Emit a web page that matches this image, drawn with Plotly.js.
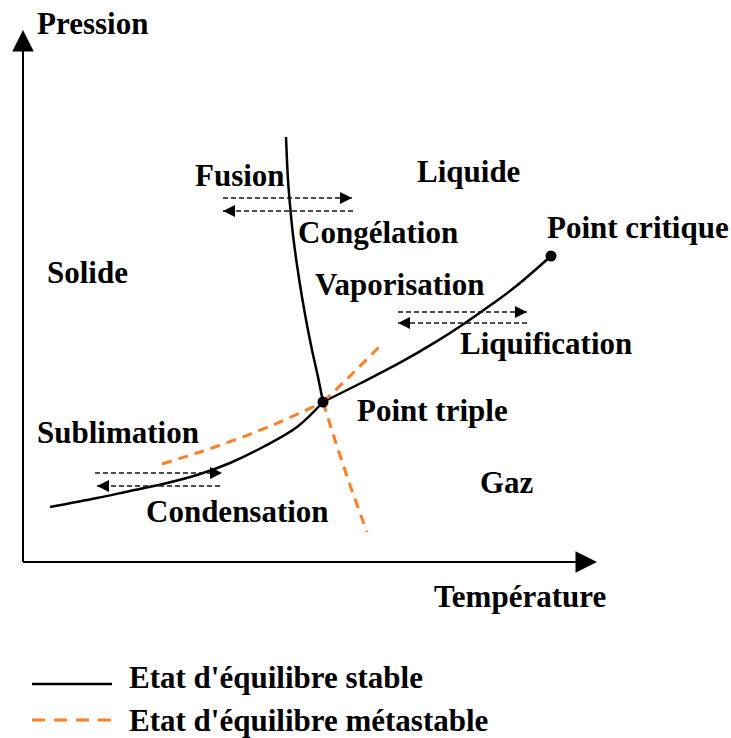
<!DOCTYPE html>
<html><head><meta charset="utf-8">
<script src="https://cdn.plot.ly/plotly-3.0.1.min.js"></script>
<style>html,body{margin:0;padding:0;background:#fff;overflow:hidden}</style>
</head><body>
<div id="chart" style="width:731px;height:738px"></div>
<script>
// Arbitrary units: T (température), P (pression), origin at the axes' corner
const sublimT = [27, 74, 107, 140, 174, 207, 240, 274, 300];
const sublimP = [55, 64, 71, 78, 87, 99, 115, 135, 160];
const vaporT = [300, 337, 377, 412, 440, 467, 492, 528];
const vaporP = [160, 178.5, 199.3, 219.6, 237.5, 256.4, 274.9, 306];
const fusionT = [263, 265, 267, 270, 274, 279, 284, 289, 295, 300];
const fusionP = [425, 382, 357, 327, 297, 265, 237, 212, 185, 160];
const metaVapT = [139, 177, 217, 257, 300];
const metaVapP = [98, 110, 124, 140, 160];
const metaSubT = [300, 327, 357];
const metaSubP = [160, 186, 216];
const metaFusT = [300, 312, 327, 344];
const metaFusP = [160, 122, 77, 30];
const specialNames = ['Point triple', 'Point critique'];
const specialT = [300, 528];
const specialP = [160, 306];
// transition arrows: tail T, head T, level P
const arrowNames = ['Fusion', 'Congélation', 'Vaporisation', 'Liquification', 'Sublimation', 'Condensation'];
const arrowFromT = [200, 330, 375, 504, 72, 197];
const arrowToT   = [329, 200, 504, 375, 199, 74];
const arrowP     = [364, 351, 250, 239, 89, 76];
const axisEndT = 574, axisEndP = 532;

const FONT = 'Liberation Serif, Times New Roman, serif';
const FS = 31;
const ORANGE = '#FF7F27';
const toT = px => px - 23, toP = py => 562 - py;

const traces = [];
const solid = {color: '#000', width: 2.5, shape: 'spline', smoothing: 1};
traces.push({x: sublimT, y: sublimP, mode: 'lines', line: solid, hoverinfo: 'skip'});
traces.push({x: vaporT, y: vaporP, mode: 'lines', line: solid, hoverinfo: 'skip'});
traces.push({x: fusionT, y: fusionP, mode: 'lines', line: solid, hoverinfo: 'skip'});
const meta = {color: ORANGE, width: 3, dash: '10px,7px', shape: 'spline'};
traces.push({x: metaVapT, y: metaVapP, mode: 'lines', line: meta, hoverinfo: 'skip'});
traces.push({x: metaSubT, y: metaSubP, mode: 'lines', line: meta, hoverinfo: 'skip'});
traces.push({x: metaFusT, y: metaFusP, mode: 'lines', line: meta, hoverinfo: 'skip'});
traces.push({x: specialT, y: specialP, text: specialNames, mode: 'markers', marker: {color: '#000', size: 11}, hoverinfo: 'text'});

const annotations = [];
for (let i = 0; i < arrowNames.length; i++) {
  traces.push({x: [arrowFromT[i], arrowToT[i]], y: [arrowP[i], arrowP[i]], mode: 'lines',
    line: {color: '#111', width: 1.7, dash: '5px,3px'}, hoverinfo: 'skip'});
  const dir = Math.sign(arrowToT[i] - arrowFromT[i]);
  annotations.push({x: arrowToT[i], y: arrowP[i], ax: arrowToT[i] - dir * 8, ay: arrowP[i],
    xref: 'x', yref: 'y', axref: 'x', ayref: 'y', text: '', showarrow: true,
    arrowhead: 2, arrowsize: 1.6, arrowwidth: 1.5, arrowcolor: '#000', standoff: 0});
}
// axes with arrows
traces.push({x: [0, 0], y: [0, axisEndP - 16], mode: 'lines', line: {color: '#000', width: 2}, hoverinfo: 'skip'});
traces.push({x: [0, axisEndT - 16], y: [0, 0], mode: 'lines', line: {color: '#000', width: 2}, hoverinfo: 'skip'});
annotations.push({x: 0, y: axisEndP, ax: 0, ay: axisEndP - 20, xref: 'x', yref: 'y', axref: 'x', ayref: 'y',
  text: '', showarrow: true, arrowhead: 2, arrowsize: 2.15, arrowwidth: 2, arrowcolor: '#000', standoff: 0});
annotations.push({x: axisEndT, y: 0, ax: axisEndT - 20, ay: 0, xref: 'x', yref: 'y', axref: 'x', ayref: 'y',
  text: '', showarrow: true, arrowhead: 2, arrowsize: 2.15, arrowwidth: 2, arrowcolor: '#000', standoff: 0});

function lbl(text, px, py) {
  annotations.push({text: text, x: toT(px), y: toP(py), xref: 'x', yref: 'y', xanchor: 'left', yanchor: 'middle',
    showarrow: false, font: {family: FONT, size: FS, color: '#000', weight: 'bold'}, borderpad: 0});
}
lbl('Pression', 36, 23);
lbl('Solide', 46, 272);
lbl('Fusion', 194, 175);
lbl('Liquide', 416, 171);
lbl('Congélation', 297, 232);
lbl('Point critique', 546, 227);
lbl('Vaporisation', 314, 284);
lbl('Liquification', 459, 343);
lbl('Point triple', 356, 410);
lbl('Sublimation', 36, 432);
lbl('Gaz', 479, 482);
lbl('Condensation', 145, 511);
lbl('Température', 433, 596);
lbl("Etat d'équilibre stable", 128, 677);
lbl("Etat d'équilibre métastable", 128, 720);

const shapes = [
  {type: 'line', xref: 'x', yref: 'y', x0: toT(32), x1: toT(112), y0: toP(684), y1: toP(684), line: {color: '#000', width: 2.5}},
  {type: 'line', xref: 'x', yref: 'y', x0: toT(32), x1: toT(112), y0: toP(720), y1: toP(720), line: {color: ORANGE, width: 3, dash: '13px,9px'}}
];

const layout = {
  width: 731, height: 738, autosize: false,
  margin: {l: 0, r: 0, t: 0, b: 0, pad: 0},
  paper_bgcolor: '#fff', plot_bgcolor: '#fff',
  showlegend: false,
  xaxis: {range: [toT(0), toT(731)], visible: false, fixedrange: true},
  yaxis: {range: [toP(738), toP(0)], visible: false, fixedrange: true},
  annotations: annotations, shapes: shapes
};
Plotly.newPlot('chart', traces, layout, {displayModeBar: false, staticPlot: true});
</script>
</body></html>
